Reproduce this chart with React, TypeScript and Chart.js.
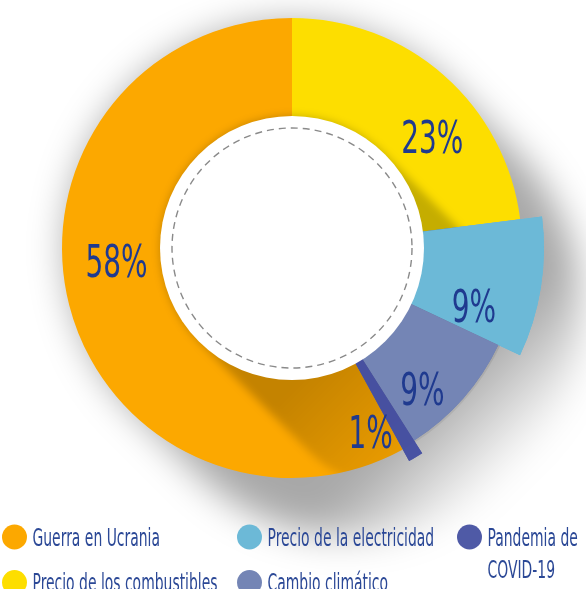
import { useEffect, useRef } from 'react';
import { Chart, ArcElement, DoughnutController } from 'chart.js';

Chart.register(ArcElement, DoughnutController);

// ---- data ----
const categories = [
  'Precio de los combustibles',
  'Precio de la electricidad',
  'Cambio climático',
  'Pandemia de COVID-19',
  'Guerra en Ucrania',
];
const shares = [23, 9, 9, 1, 58];
const valueLabels = ['23%', '9%', '9%', '1%', '58%'];
const legendLabels = [
  ['Precio de los combustibles'],
  ['Precio de la electricidad'],
  ['Cambio climático'],
  ['Pandemia de', 'COVID-19'],
  ['Guerra en Ucrania'],
];
const legendOrder = [4, 1, 3, 0, 2];

// ---- style ----
const COLORS = ['#FDDE00', '#6CB9D7', '#7485B5', 'rgba(72,82,162,0.93)', '#FCA800'];
const LEGEND_COLORS = ['#FDDE00', '#6CB9D7', '#7485B5', '#4F5AA6', '#FCA800'];
const RADIUS_EXTRA = [0, 22, -2, 13, 0];
const RAISED = [1, 2, 3];
const LABEL_POS = [
  { f: 0.623, r: 179 },
  { f: 0.77, r: 191 },
  { f: 0.68, r: 192 },
  { f: 2.56, r: 200 },
  { f: 0.549, r: 176 },
];
const LABEL_COLOR = '#1F3A8F';
const LEGEND_TEXT = '#2B4896';
const FONT_STACK = '"Liberation Sans Narrow", "DejaVu Sans Condensed", Roboto, sans-serif';
const OUTER_R = 230;
const HOLE_R = 132;
const DASH_R = 120;
const LEGEND_COL_X = [14.5, 249.5, 469.5];
const LEGEND_ROW_Y = [537, 582.5];

function longShadow(
  ctx: CanvasRenderingContext2D,
  cx: number,
  cy: number,
  r: number,
  L: number,
  a0: number,
  blur: number,
  hold: number,
) {
  const d = Math.SQRT1_2;
  ctx.save();
  ctx.filter = `blur(${blur}px)`;
  const x1 = cx + L + r * d;
  const y1 = cy + L + r * d;
  const g = ctx.createLinearGradient(cx, cy, x1, y1);
  const total = Math.SQRT2 * L + r;
  g.addColorStop(0, `rgba(0,0,0,${a0})`);
  g.addColorStop(Math.min(0.99, (r * hold) / total), `rgba(0,0,0,${a0})`);
  g.addColorStop(1, 'rgba(0,0,0,0)');
  ctx.fillStyle = g;
  ctx.beginPath();
  ctx.arc(cx + L, cy + L, r, -Math.PI / 4, (3 * Math.PI) / 4);
  ctx.arc(cx, cy, r, (3 * Math.PI) / 4, (7 * Math.PI) / 4);
  ctx.closePath();
  ctx.fill();
  ctx.restore();
}

const decorPlugin = {
  id: 'decor',
  afterDatasetUpdate(chart: any, args: any) {
    args.meta.data.forEach((arc: any, i: number) => {
      arc.outerRadius = arc.outerRadius + (RADIUS_EXTRA[i] || 0);
    });
  },
  beforeDatasetsDraw(chart: any) {
    const ctx: CanvasRenderingContext2D = chart.ctx;
    const arc = chart.getDatasetMeta(0).data[0];
    longShadow(ctx, arc.x, arc.y, OUTER_R - 4, 64, 0.34, 18, 0.9);
  },
  afterDatasetsDraw(chart: any) {
    const ctx: CanvasRenderingContext2D = chart.ctx;
    const meta = chart.getDatasetMeta(0);
    const cx = meta.data[0].x, cy = meta.data[0].y;
    // cast shadow of the centre disc on the ring
    ctx.save();
    ctx.beginPath();
    ctx.arc(cx, cy, OUTER_R, 0, Math.PI * 2);
    ctx.clip();
    longShadow(ctx, cx, cy, HOLE_R, 110, 0.22, 4, 0.75);
    ctx.restore();
    // raised slices on top of the shadow
    RAISED.forEach((i) => meta.data[i].draw(ctx));
    // centre disc
    ctx.save();
    ctx.fillStyle = '#ffffff';
    ctx.beginPath();
    ctx.arc(cx, cy, HOLE_R, 0, Math.PI * 2);
    ctx.fill();
    ctx.setLineDash([7, 5]);
    ctx.lineWidth = 1.4;
    ctx.strokeStyle = '#8a8a8a';
    ctx.beginPath();
    ctx.arc(cx, cy, DASH_R, 0, Math.PI * 2);
    ctx.stroke();
    ctx.restore();
  },
  afterDraw(chart: any) {
    const ctx: CanvasRenderingContext2D = chart.ctx;
    const meta = chart.getDatasetMeta(0);
    const cx = meta.data[0].x, cy = meta.data[0].y;
    // value labels
    const F = 45;
    ctx.save();
    ctx.font = `${F}px ${FONT_STACK}`;
    const sx = Math.min(1, (F * 1.38) / ctx.measureText('58%').width);
    ctx.fillStyle = LABEL_COLOR;
    ctx.textAlign = 'center';
    ctx.textBaseline = 'alphabetic';
    meta.data.forEach((arc: any, i: number) => {
      const p = LABEL_POS[i];
      const a = arc.startAngle + p.f * (arc.endAngle - arc.startAngle);
      const x = cx + p.r * Math.cos(a);
      const y = cy + p.r * Math.sin(a);
      ctx.save();
      ctx.translate(x, y + F * 0.358);
      ctx.scale(sx, 1);
      ctx.fillText(valueLabels[i], 0, 0);
      ctx.restore();
    });
    ctx.restore();

    // legend
    const F2 = 25;
    ctx.save();
    ctx.font = `${F2}px ${FONT_STACK}`;
    const sx2 = Math.min(1, (F2 * 5.1) / ctx.measureText('Guerra en Ucrania').width);
    ctx.textAlign = 'left';
    ctx.textBaseline = 'alphabetic';
    legendOrder.forEach((idx, k) => {
      const col = k % 3;
      const row = Math.floor(k / 3);
      const x = LEGEND_COL_X[col];
      const y = LEGEND_ROW_Y[row];
      ctx.fillStyle = LEGEND_COLORS[idx];
      ctx.beginPath();
      ctx.arc(x, y, 12.5, 0, Math.PI * 2);
      ctx.fill();
      ctx.fillStyle = LEGEND_TEXT;
      legendLabels[idx].forEach((line, li) => {
        ctx.save();
        ctx.translate(x + 18, y + 8.5 + li * 32);
        ctx.scale(sx2, 1);
        ctx.fillText(line, 0, 0);
        ctx.restore();
      });
    });
    ctx.restore();
  },
};

export default function App() {
  const ref = useRef<HTMLCanvasElement>(null);
  useEffect(() => {
    const chart = new Chart(ref.current as HTMLCanvasElement, {
      type: 'doughnut',
      data: {
        labels: categories,
        datasets: [
          {
            data: shares,
            backgroundColor: COLORS,
            borderWidth: 0,
          },
        ],
      },
      options: {
        responsive: false,
        animation: false,
        events: [],
        radius: OUTER_R,
        cutout: 80,
        layout: { padding: { top: 0, left: 0, right: 2, bottom: 93 } },
        plugins: {
          legend: { display: false },
          tooltip: { enabled: false },
        },
      } as any,
      plugins: [decorPlugin as any],
    });
    return () => chart.destroy();
  }, []);
  return (
    <canvas
      ref={ref}
      width={586}
      height={589}
      style={{ position: 'fixed', left: 0, top: 0, width: 586, height: 589, background: '#ffffff' }}
    />
  );
}
